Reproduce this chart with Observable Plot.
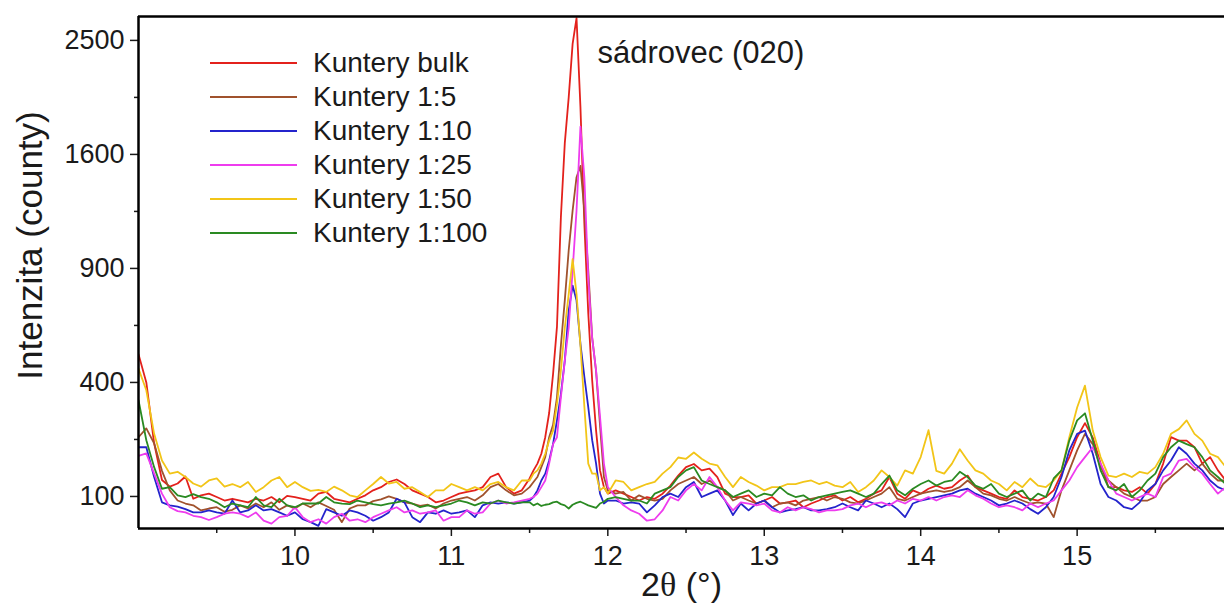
<!DOCTYPE html>
<html>
<head>
<meta charset="utf-8">
<script src="https://cdn.jsdelivr.net/npm/d3@7"></script>
<script src="https://cdn.jsdelivr.net/npm/@observablehq/plot@0.6"></script>
<style>
  body { margin: 0; background: #fff; font-family: "Liberation Sans", Arial, sans-serif; }
  #wrap { position: relative; width: 1224px; height: 608px; overflow: hidden; }
  #legend { position: absolute; left: 210px; top: 46px; }
  .row { display: flex; align-items: center; height: 34px; }
  .row svg { width: 87px; height: 4px; margin-right: 16px; display: block; }
  .row span { font-size: 28px; line-height: 34px; color: #1a1a1a; white-space: nowrap; }
</style>
</head>
<body>
<div id="wrap"><div id="legend"></div></div>
<script>
// 2θ sampling positions (°)
const twoTheta = [
  9.00,9.05,9.10,9.15,9.20,9.25,9.30,9.35,9.40,9.45,9.50,9.55,9.60,9.65,9.70,9.75,9.80,9.85,9.90,9.95,
  10.00,10.05,10.10,10.15,10.20,10.25,10.30,10.35,10.40,10.45,10.50,10.55,10.60,10.65,10.70,10.75,10.80,10.85,10.90,10.95,
  11.00,11.05,11.10,11.15,11.20,11.25,11.30,11.35,11.40,11.45,11.50,
  11.525,11.55,11.575,11.60,11.625,11.65,11.675,11.70,11.725,11.75,11.775,11.80,11.825,11.85,11.875,11.90,11.925,11.95,11.975,12.00,
  12.05,12.10,12.15,12.20,12.25,12.30,12.35,12.40,12.45,12.50,12.55,12.60,12.65,12.70,12.75,12.80,12.85,12.90,12.95,
  13.00,13.05,13.10,13.15,13.20,13.25,13.30,13.35,13.40,13.45,13.50,13.55,13.60,13.65,13.70,13.75,13.80,13.85,13.90,13.95,
  14.00,14.05,14.10,14.15,14.20,14.25,14.30,14.35,14.40,14.45,14.50,14.55,14.60,14.65,14.70,14.75,14.80,14.85,14.90,14.95,
  15.00,15.05,15.10,15.15,15.20,15.25,15.30,15.35,15.40,15.45,15.50,15.55,15.60,15.65,15.70,15.75,15.80,15.85,15.90,15.95
];

// Intensities (counts)
const bulk = [
  505,400,215,131,118,124,138,96,102,105,99,93,96,93,90,96,93,99,90,101,
  99,96,93,105,108,96,93,90,96,102,111,117,127,132,123,111,105,99,90,93,
  99,105,108,111,117,137,144,117,105,111,134,
  151,166,189,231,300,430,620,1190,1680,2025,2470,2700,1950,1150,680,408,249,151,117,105,
  111,105,99,93,99,96,105,120,140,158,165,151,155,137,105,99,99,102,88,
  93,99,88,90,93,82,88,93,99,102,93,99,90,96,105,111,137,105,96,111,
  105,114,120,114,117,130,140,117,111,105,99,96,111,99,96,93,99,111,144,181,
  231,270,230,166,117,117,111,108,117,105,123,166,231,222,222,205,166,181,151,130
];
const r5 = [
  231,255,215,150,111,93,88,85,77,80,82,75,78,85,80,88,82,90,78,85,
  80,88,82,90,84,78,60,80,85,85,92,95,100,96,90,88,84,86,80,88,
  93,96,99,93,102,117,123,111,102,105,117,
  127,137,158,181,231,265,349,540,740,998,1230,1444,1520,1230,890,574,440,265,137,111,
  105,108,93,102,96,93,96,111,123,130,137,123,130,117,111,93,99,93,88,
  93,82,88,90,85,93,96,99,93,99,96,90,88,93,99,105,117,96,93,99,
  105,108,111,108,111,117,130,117,105,102,96,93,99,93,88,90,88,67,111,151,
  197,240,213,158,130,117,105,99,93,93,99,123,137,151,166,151,166,144,130,130
];
const r10 = [
  205,205,137,90,85,83,79,74,74,77,74,72,93,74,77,85,77,79,74,69,
  74,64,60,55,79,74,69,77,74,69,62,67,74,96,90,67,60,74,72,77,
  72,74,77,67,85,90,88,90,88,90,93,
  99,111,130,144,173,213,278,360,480,692,812,740,547,420,318,223,166,105,88,93,
  93,88,90,88,74,85,99,105,99,117,127,99,105,111,93,70,88,77,88,
  93,82,74,77,79,82,77,77,79,82,88,82,77,93,88,82,88,79,67,88,
  93,96,99,102,105,111,114,105,99,93,85,88,93,88,79,72,82,99,137,197,
  240,249,189,123,99,93,82,79,90,111,123,151,173,205,189,166,151,130,117,111
];
const r25 = [
  184,190,144,105,82,76,74,69,67,63,67,72,74,72,67,74,62,58,67,69,
  82,67,60,64,58,67,72,62,64,60,67,72,77,82,74,77,72,74,77,62,
  67,67,77,72,74,88,93,88,90,93,96,
  99,105,117,130,166,213,231,349,480,615,890,1230,1800,1444,850,570,443,290,166,117,
  99,85,77,72,62,64,77,99,93,111,123,111,137,117,93,77,90,88,85,
  88,77,74,82,77,82,79,74,77,77,79,85,88,82,88,90,85,93,88,96,
  93,99,93,99,102,99,111,102,96,88,82,85,82,77,88,82,88,93,111,130,
  158,181,205,166,130,105,99,93,99,105,99,137,144,173,177,158,144,123,105,117
];
const r50 = [
  450,373,240,173,144,148,137,124,118,130,134,118,123,117,127,108,117,130,137,117,
  127,117,110,112,108,118,111,102,99,111,123,137,124,127,114,117,108,99,111,111,
  123,117,111,117,111,123,127,117,111,130,130,
  144,151,166,189,222,249,328,443,615,770,950,770,540,320,166,144,144,111,117,105,
  130,127,111,117,123,127,144,158,180,177,192,177,166,162,137,117,137,127,120,
  111,117,117,123,123,127,130,123,127,120,117,127,108,117,130,151,137,120,151,144,
  181,250,150,144,166,200,173,151,144,130,123,111,127,117,134,120,117,130,151,231,
  317,389,249,181,140,137,144,137,148,144,158,189,240,253,278,240,222,189,181,158
];
const r100 = [
  340,223,158,114,117,102,99,104,99,96,90,82,88,85,82,99,85,82,96,85,
  82,88,88,88,99,90,88,87,93,90,87,85,88,90,93,88,82,85,82,85,
  88,93,90,85,90,88,93,90,88,90,90,
  85,88,84,86,87,90,91,87,85,80,86,89,91,88,85,83,81,88,91,96,
  99,96,93,93,88,105,111,117,137,151,158,130,123,117,111,99,105,111,99,
  105,102,117,105,99,102,93,99,102,105,108,111,105,99,105,123,140,111,102,114,
  123,130,120,127,130,148,137,120,114,123,105,99,105,111,93,105,99,134,151,222,
  278,299,222,151,117,111,123,99,111,130,144,181,205,222,213,205,181,151,137,123
];

const seriesNames = ["Kuntery bulk", "Kuntery 1:5", "Kuntery 1:10", "Kuntery 1:25", "Kuntery 1:50", "Kuntery 1:100"];
const seriesColors = ["#e3211c", "#a0522d", "#2424cc", "#ee3cee", "#f2c518", "#2a8a22"];
const seriesValues = [bulk, r5, r10, r25, r50, r100];

const yTicks = [100, 400, 900, 1600, 2500];
const yMinorTicks = [225, 625, 1225, 2025];
const xTicks = [10, 11, 12, 13, 14, 15];
const xMinorTicks = [9.5, 10.5, 11.5, 12.5, 13.5, 14.5, 15.5];

const xDomain = [9, 15.942];
const yDomain = [51.7, 2714];

const rows = [];
seriesValues.forEach((vals, i) => {
  const n = Math.min(vals.length, twoTheta.length);
  for (let j = 0; j < n; j++) rows.push({ t: twoTheta[j], v: vals[j], s: seriesNames[i] });
});

const font = '"Liberation Sans", Arial, sans-serif';

const chart = Plot.plot({
  width: 1224,
  height: 608,
  marginLeft: 138,
  marginRight: 0,
  marginTop: 16,
  marginBottom: 80,
  style: { fontFamily: font, color: "#1a1a1a", background: "#fff", overflow: "visible" },
  x: { domain: xDomain },
  y: { type: "sqrt", domain: yDomain },
  color: { domain: seriesNames, range: seriesColors },
  marks: [
    Plot.line(rows, { x: "t", y: "v", z: "s", stroke: "s", strokeWidth: 1.8, clip: true }),
    Plot.axisY({ ticks: yTicks, tickSize: 8, tickPadding: 6, fontSize: 27, label: null, tickFormat: d => String(d), strokeWidth: 1.5 }),
    Plot.axisY({ ticks: yMinorTicks, tickSize: 4, text: null, label: null, strokeWidth: 1.5 }),
    Plot.axisX({ ticks: xTicks, tickSize: 8, tickPadding: 9, fontSize: 27, label: null, tickFormat: d => String(d), strokeWidth: 1.5 }),
    Plot.axisX({ ticks: xMinorTicks, tickSize: 5, text: null, label: null, strokeWidth: 1.5 }),
    Plot.ruleX([xDomain[0]], { strokeWidth: 2.5, stroke: "#000" }),
    Plot.ruleY([yDomain[0]], { strokeWidth: 2.5, stroke: "#000" }),
    Plot.ruleY([yDomain[1]], { strokeWidth: 2.5, stroke: "#000" }),
    Plot.text(["Intenzita (county)"], { frameAnchor: "left", textAnchor: "middle", lineAnchor: "middle", rotate: -90, dx: -108, dy: -27, fontSize: 35 }),
    Plot.text(["2θ (°)"], { frameAnchor: "bottom", textAnchor: "middle", lineAnchor: "middle", dy: 57, fontSize: 34 }),
    Plot.text(["sádrovec (020)"], { frameAnchor: "top-left", dx: 459, dy: 37, textAnchor: "start", lineAnchor: "middle", fontSize: 31 })
  ]
});

// serif theta in the x title
chart.querySelectorAll("text").forEach(t => {
  if (t.textContent === "2θ (°)") {
    t.innerHTML = '2<tspan font-family="Liberation Serif, DejaVu Serif, serif">θ</tspan> (°)';
  }
});

const wrap = document.getElementById("wrap");
wrap.insertBefore(chart, wrap.firstChild);

// legend inside the plot area
const legend = document.getElementById("legend");
seriesNames.forEach((name, i) => {
  const row = document.createElement("div");
  row.className = "row";
  row.innerHTML = `<svg viewBox="0 0 87 4"><line x1="0" y1="2" x2="87" y2="2" stroke="${seriesColors[i]}" stroke-width="2"/></svg><span>${name}</span>`;
  legend.appendChild(row);
});
</script>
</body>
</html>
